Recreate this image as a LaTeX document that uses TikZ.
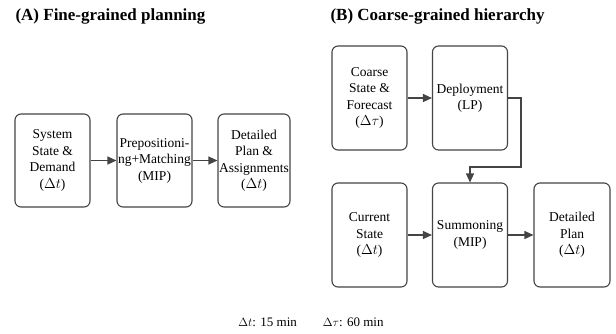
\documentclass[tikz,border=0pt]{standalone}
\usepackage{fontspec}
\setmainfont{Liberation Serif}
\usetikzlibrary{arrows.meta}
\definecolor{edge}{HTML}{444444}
\tikzset{
  stage/.style={draw=edge, line width=1.1pt, rounded corners=6pt, fill=white,
    minimum width=75pt, minimum height=104pt, inner sep=1pt,
    align=center, font=\rmfamily\fontsize{13.5}{16.5}\selectfont},
  flow/.style={draw=edge, line width=1.2pt, -{Triangle[length=9pt,width=8pt]}},
  heading/.style={anchor=west, font=\rmfamily\fontsize{17}{19}\selectfont\bfseries},
}
\begin{document}
\begin{tikzpicture}[x=1pt, y=-1pt]
\useasboundingbox (0,0) rectangle (616,333);
% panel headings
\node[heading] (ha) at (12,16) {(A) Fine-grained planning};
\node[heading] (hb) at (327,16) {(B) Coarse-grained hierarchy};
% (A) single-stage pipeline
\node[stage, minimum height=93pt] (a1) at (52.5,160.5) {System\\State \&\\Demand\\($\Delta t$)};
\node[stage, minimum height=93pt] (a2) at (154.5,160.5) {Prepositioni-\\ng+Matching\\(MIP)};
\node[stage, minimum height=93pt, minimum width=72pt] (a3) at (254,160.5) {Detailed\\Plan \&\\Assignments\\($\Delta t$)};
\draw[flow] (a1) -- (a2);
\draw[flow] (a2) -- (a3);
% (B) two-level hierarchy
\node[stage] (b1) at (369.5,98) {Coarse\\State \&\\Forecast\\($\Delta\tau$)};
\node[stage] (b2) at (470,98) {Deployment\\(LP)};
\node[stage] (b3) at (369.5,235) {Current\\State\\($\Delta t$)};
\node[stage] (b4) at (470,235) {Summoning\\(MIP)};
\node[stage, minimum width=76pt] (b5) at (572,235) {Detailed\\Plan\\($\Delta t$)};
\coordinate (turn) at (521,167);
\draw[flow] (b1) -- (b2);
\draw[flow] (b2.east) -| (turn) -| (b4.north);
\draw[flow] (b3) -- (b4);
\draw[flow] (b4) -- (b5);
% time-step legend
\node[font=\rmfamily\fontsize{13}{15}\selectfont] (legend) at (311,322) {$\Delta t$: 15 min\qquad$\Delta\tau$: 60 min};
\end{tikzpicture}
\end{document}
